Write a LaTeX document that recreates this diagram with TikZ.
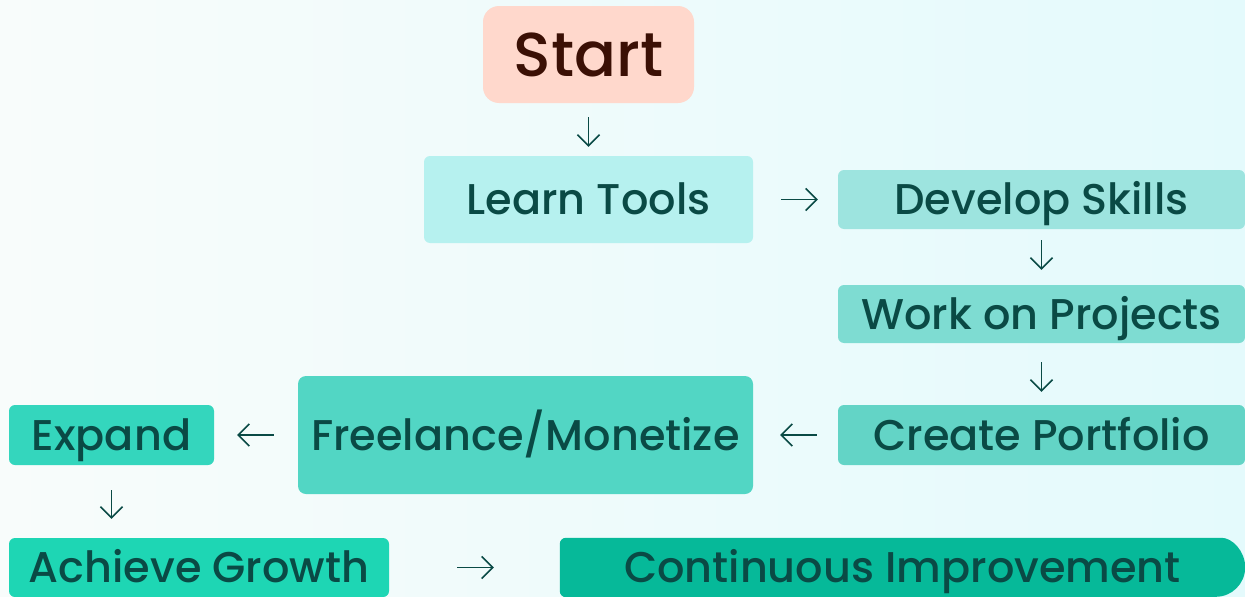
\documentclass[tikz,border=0pt]{standalone}
\usepackage{fontspec}
\setmainfont{Poppins}[UprightFont=* Medium]
\usetikzlibrary{positioning,shapes,arrows.meta,calc}
\definecolor{bgleft}{HTML}{F8FCFB}
\definecolor{bgright}{HTML}{E4FAFC}
\definecolor{inkteal}{HTML}{0A4A45}
\definecolor{inkbrown}{HTML}{3B1005}
\definecolor{startc}{HTML}{FFD8CC}
\definecolor{learnc}{HTML}{B6F1EF}
\definecolor{developc}{HTML}{9DE4DF}
\definecolor{workc}{HTML}{7EDCD2}
\definecolor{createc}{HTML}{63D4C6}
\definecolor{freec}{HTML}{52D6C4}
\definecolor{expandc}{HTML}{34D6BD}
\definecolor{growthc}{HTML}{1ED6B4}
\definecolor{contc}{HTML}{06B999}
\tikzset{
    stepbox/.style={rectangle,rounded corners=6pt,inner sep=0pt,text=inkteal,text height=30pt,text depth=0pt,font=\fontsize{43}{48}\selectfont},
    link/.style={draw=inkteal,line width=1.6pt,-{Straight Barb[length=11pt,width=22pt]}}
}
\begin{document}
\begin{tikzpicture}[x=1pt,y=-1pt]
    \fill[left color=bgleft,right color=bgright] (0,0) rectangle (1245,597);
    \useasboundingbox (0,0) rectangle (1245,597);
    \node[stepbox,fill=startc,rounded corners=16pt,text=inkbrown,text height=43pt,font=\fontsize{62}{66}\selectfont,minimum width=211pt,minimum height=97pt] (start) at (588.5,54.5) {Start};
    \node[stepbox,fill=learnc,minimum width=329pt,minimum height=87pt] (learn) at (588.5,199.5) {Learn Tools};
    \node[stepbox,fill=developc,minimum width=407pt,minimum height=59pt] (develop) at (1041.5,199.5) {Develop Skills};
    \node[stepbox,fill=workc,minimum width=407pt,minimum height=58pt] (work) at (1041.5,314) {Work on Projects};
    \node[stepbox,fill=createc,minimum width=407pt,minimum height=60pt] (create) at (1041.5,435) {Create Portfolio};
    \node[stepbox,fill=freec,rounded corners=8pt,minimum width=455pt,minimum height=118pt] (free) at (525.5,435) {Freelance/Monetize};
    \node[stepbox,fill=expandc,minimum width=205pt,minimum height=60pt] (expand) at (111.5,435) {Expand};
    \node[stepbox,fill=growthc,minimum width=380pt,minimum height=59pt] (growth) at (199,567.5) {Achieve Growth};
    \node[stepbox,minimum width=685pt,minimum height=59pt] (cont) at (902.5,567.5) {};
    \fill[contc] ([xshift=-29.5pt]cont.north east) arc[start angle=90,end angle=-90,radius=29.5pt]
        [rounded corners=6pt] -- (cont.south west) -- (cont.north west) -- cycle;
    \node[stepbox] at (cont) {Continuous Improvement};
    \draw[link,shorten <=14pt,shorten >=9pt] (start) -- (learn);
    \draw[link,shorten <=28pt,shorten >=20pt] (learn) -- (develop);
    \draw[link,shorten <=11pt,shorten >=15pt] (develop) -- (work);
    \draw[link,shorten <=19pt,shorten >=13pt] (work) -- (create);
    \draw[link,shorten <=21pt,shorten >=27pt] (create) -- (free);
    \draw[link,shorten <=24pt,shorten >=23pt] (free) -- (expand);
    \draw[link,shorten <=25pt,shorten >=19pt] (expand) -- (expand |- growth.north);
    \draw[link,shorten <=68pt,shorten >=66pt] (growth) -- (cont);
\end{tikzpicture}
\end{document}
